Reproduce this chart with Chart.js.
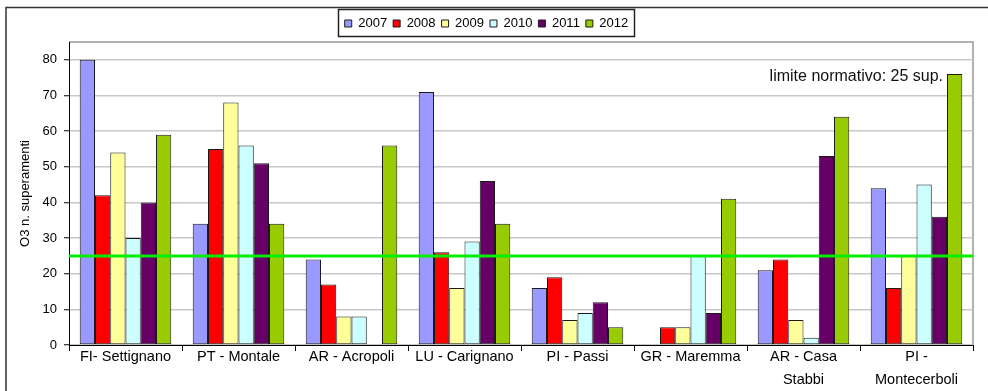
<!DOCTYPE html>
<html>
<head>
<meta charset="utf-8">
<script src="https://cdn.jsdelivr.net/npm/chart.js@4.4.1/dist/chart.umd.min.js"></script>
<style>
  html, body { margin: 0; padding: 0; background: #fff; overflow: hidden; }
  canvas { display: block; }
</style>
</head>
<body>
<canvas id="c" width="988" height="391"></canvas>
<script>
// Ozone (O3): number of exceedances per monitoring station, 2007-2012
const stations = [
  'FI- Settignano', 'PT - Montale', 'AR - Acropoli', 'LU - Carignano',
  'PI - Passi', 'GR - Maremma', ['AR - Casa', 'Stabbi'], ['PI -', 'Montecerboli']
];
const years = ['2007', '2008', '2009', '2010', '2011', '2012'];
const exceed2007 = [80, 34, 24, 71, 16, null, 21, 44];
const exceed2008 = [42, 55, 17, 26, 19, 5, 24, 16];
const exceed2009 = [54, 68, 8, 16, 7, 5, 7, 25];
const exceed2010 = [30, 56, 8, 29, 9, 25, 2, 45];
const exceed2011 = [40, 51, null, 46, 12, 9, 53, 36];
const exceed2012 = [59, 34, 56, 34, 5, 41, 64, 76];
const yTicks = [0, 10, 20, 30, 40, 50, 60, 70, 80];
const limitValue = 25;   // legal limit: 25 exceedances

const seriesValues = [exceed2007, exceed2008, exceed2009, exceed2010, exceed2011, exceed2012];
const seriesColors = ['#9999FF', '#FF0000', '#FFFF99', '#CCFFFF', '#660066', '#99CC00'];

const FONT = "'Liberation Sans', Arial, sans-serif";

const decorations = {
  id: 'decorations',
  afterInit(chart) {
    // leave a little extra room between the legend and the plot area
    const legend = chart.legend;
    if (legend) {
      const fit = legend.fit.bind(legend);
      legend.fit = function () { fit(); this.height += 2; };
    }
  },
  beforeDraw(chart) {
    const { ctx, chartArea: a } = chart;
    ctx.save();
    // outer frame of the chart object
    ctx.strokeStyle = '#333';
    ctx.lineWidth = 1.5;
    ctx.beginPath();
    ctx.moveTo(6, chart.height + 2);
    ctx.lineTo(6, 7.5);
    ctx.lineTo(chart.width + 2, 7.5);
    ctx.stroke();
    // plot area frame (top and right edges)
    ctx.strokeStyle = '#999';
    ctx.lineWidth = 1.5;
    ctx.beginPath();
    ctx.moveTo(a.left, a.top);
    ctx.lineTo(a.right, a.top);
    ctx.lineTo(a.right, a.bottom);
    ctx.stroke();
    ctx.restore();
  },
  afterDatasetsDraw(chart) {
    const { ctx, chartArea: a, scales: { y } } = chart;
    ctx.save();
    // limit line
    const yl = y.getPixelForValue(limitValue);
    ctx.strokeStyle = '#00EE00';
    ctx.lineWidth = 3;
    ctx.beginPath();
    ctx.moveTo(a.left, yl);
    ctx.lineTo(a.right, yl);
    ctx.stroke();
    // limit note
    ctx.fillStyle = '#111';
    ctx.font = '16px ' + FONT;
    ctx.textAlign = 'right';
    ctx.textBaseline = 'middle';
    ctx.fillText('limite normativo: ' + limitValue + ' sup.', a.right - 30, y.getPixelForValue(75.2));
    ctx.restore();
  },
  afterDraw(chart) {
    // box around the legend entries
    const boxes = chart.legend && chart.legend.legendHitBoxes;
    if (!boxes || !boxes.length) return;
    let l = Infinity, r = -Infinity, t = Infinity, b = -Infinity;
    boxes.forEach(h => {
      l = Math.min(l, h.left); r = Math.max(r, h.left + h.width);
      t = Math.min(t, h.top); b = Math.max(b, h.top + h.height);
    });
    const { ctx } = chart;
    ctx.save();
    ctx.strokeStyle = '#222';
    ctx.lineWidth = 1.5;
    ctx.strokeRect(Math.round(l - 7) + 0.5, Math.round(t - 8) + 0.5, Math.round(r - l + 12), Math.round(b - t + 14));
    ctx.restore();
  }
};

new Chart(document.getElementById('c'), {
  type: 'bar',
  data: {
    labels: stations,
    datasets: years.map((yr, i) => ({
      label: yr,
      data: seriesValues[i],
      backgroundColor: seriesColors[i],
      borderColor: '#1a1a1a',
      borderWidth: 1,
      borderSkipped: false,
      categoryPercentage: 0.81,
      barPercentage: 1.0
    }))
  },
  plugins: [decorations],
  options: {
    responsive: false,
    animation: false,
    layout: { padding: { top: 11, right: 15, bottom: 0, left: 0 } },
    plugins: {
      tooltip: { enabled: false },
      legend: {
        position: 'top',
        labels: {
          boxWidth: 7,
          boxHeight: 7,
          padding: 6,
          color: '#000',
          font: { family: FONT, size: 13 }
        }
      }
    },
    scales: {
      x: {
        afterFit(s) { s.height = 46; },
        ticks: {
          color: '#000',
          font: { family: FONT, size: 14.5, lineHeight: 1.6 },
          padding: -6,
          maxRotation: 0,
          autoSkip: false
        },
        grid: { offset: true, drawOnChartArea: false, tickColor: '#000', tickLength: 6 },
        border: { color: '#000', width: 1 }
      },
      y: {
        min: 0,
        max: 85,
        afterBuildTicks(s) { s.ticks = yTicks.map(v => ({ value: v })); },
        afterFit(s) { s.width = 69; },
        ticks: { color: '#000', font: { family: FONT, size: 13 }, padding: 7 },
        grid: { color: '#c8c8c8', lineWidth: 1.5, tickColor: '#000', tickLength: 5, tickWidth: 1 },
        border: { color: '#000', width: 1 },
        title: {
          display: true,
          text: 'O3 n. superamenti',
          color: '#000',
          font: { family: FONT, size: 13 },
          padding: { top: 18, bottom: 0 }
        }
      }
    }
  }
});
</script>
</body>
</html>
